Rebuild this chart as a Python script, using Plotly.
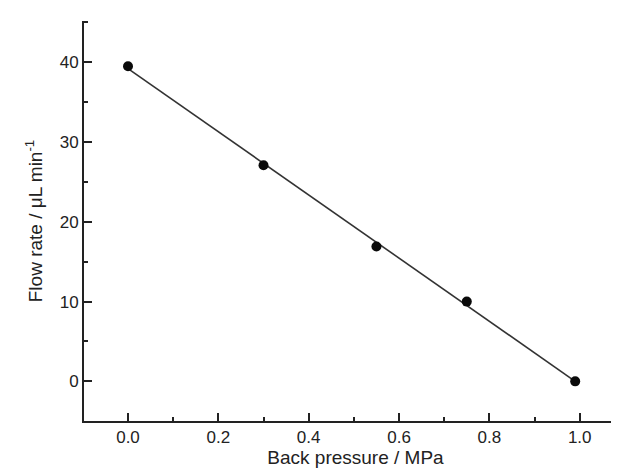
import numpy as np
import plotly.graph_objects as go

pressure = [0.0, 0.30, 0.55, 0.75, 0.99]
flow_rate = [39.5, 27.1, 16.9, 10.0, 0.0]

x_tickvals = [0.0, 0.2, 0.4, 0.6, 0.8, 1.0]
x_ticktext = ["0.0", "0.2", "0.4", "0.6", "0.8", "1.0"]
y_tickvals = [0, 10, 20, 30, 40]
y_ticktext = ["0", "10", "20", "30", "40"]

slope, intercept = np.polyfit(pressure, flow_rate, 1)
fit_x = [pressure[0], pressure[-1]]
fit_y = [slope * v + intercept for v in fit_x]

fig = go.Figure()
fig.add_trace(go.Scatter(x=fit_x, y=fit_y, mode="lines",
                         line=dict(color="#333333", width=1.6),
                         showlegend=False, hoverinfo="skip"))
fig.add_trace(go.Scatter(x=pressure, y=flow_rate, mode="markers",
                         marker=dict(color="#0a0a0a", size=10),
                         showlegend=False))

axis_font = dict(family="Liberation Sans, Arial, sans-serif", size=17, color="#222222")
title_font = dict(family="Liberation Sans, Arial, sans-serif", size=19, color="#222222")

fig.update_layout(
    width=619, height=472,
    margin=dict(l=76, r=0, t=13, b=59),
    plot_bgcolor="white", paper_bgcolor="white",
    xaxis=dict(
        range=[-0.0974, 1.1047], showgrid=False, zeroline=False, automargin=False,
        showline=True, linecolor="#222222", linewidth=2, mirror=False,
        ticks="inside", ticklen=8, tickwidth=1.5, tickcolor="#222222",
        tickvals=x_tickvals, ticktext=x_ticktext, tickfont=axis_font,
        minor=dict(ticks="inside", ticklen=4, tickwidth=1.5, tickcolor="#222222", dtick=0.1, tick0=0),
        title=dict(text="Back pressure / MPa", font=title_font, standoff=1),
    ),
    yaxis=dict(
        range=[-4.97, 45.18], showgrid=False, zeroline=False, automargin=False,
        showline=True, linecolor="#222222", linewidth=2, mirror=False,
        ticks="inside", ticklen=8, tickwidth=1.5, tickcolor="#222222",
        tickvals=y_tickvals, ticktext=y_ticktext, tickfont=axis_font,
        minor=dict(ticks="inside", ticklen=4, tickwidth=1.5, tickcolor="#222222", dtick=5, tick0=0),
        title=dict(text="Flow rate / μL min<sup>-1</sup>", font=title_font, standoff=12),
    ),
)

fig.write_html("out.html")
